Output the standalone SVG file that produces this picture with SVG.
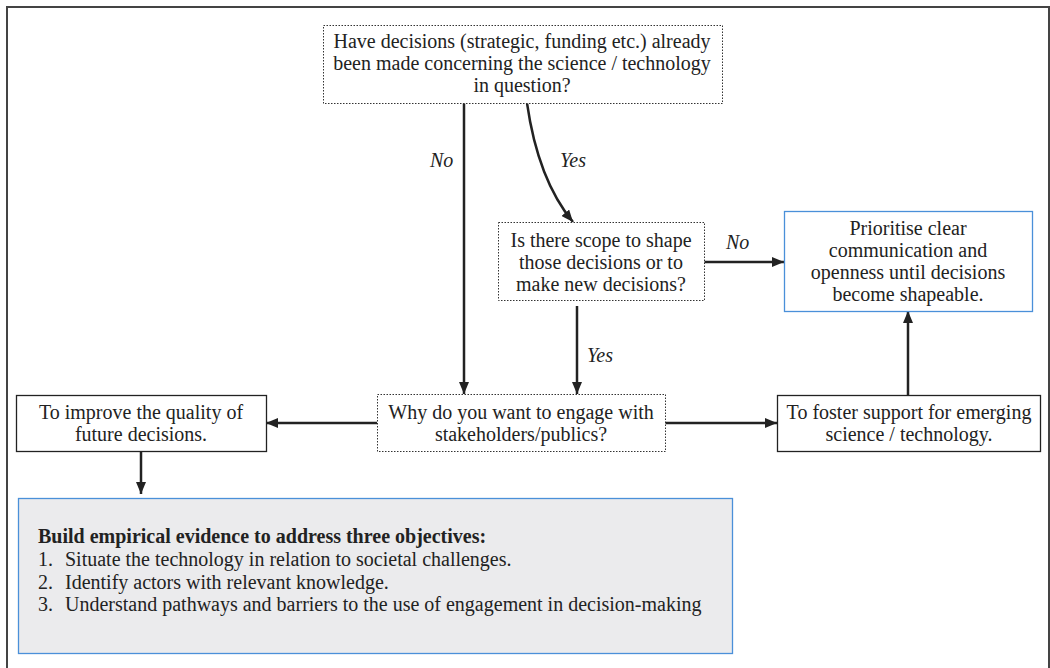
<svg xmlns="http://www.w3.org/2000/svg" width="1050" height="668" viewBox="0 0 1050 668">
<defs>
<marker id="ah" viewBox="0 0 12 10" refX="12" refY="5" markerWidth="12" markerHeight="10" markerUnits="userSpaceOnUse" orient="auto">
<path d="M0,0 L12,5 L0,10 Z" fill="#222"/>
</marker>
<style>
.c{text-anchor:middle}
.i{font-style:italic}
.dot{fill:#fff;stroke:#333;stroke-width:1;stroke-dasharray:1.5 1.5}
.sol{fill:#fff;stroke:#222;stroke-width:1.3}
.blue{fill:#fff;stroke:#4a90d9;stroke-width:1.3}
.grey{fill:#ebebed;stroke:#4a90d9;stroke-width:1.3}
.ln{fill:none;stroke:#222;stroke-width:2.5;marker-end:url(#ah)}
</style>
</defs>
<rect width="1050" height="668" fill="#fff"/>
<path d="M7,668 L7,7 L1049,7 L1049,668" fill="none" stroke="#444" stroke-width="2"/>
<g id="connectors">
<path class="ln" d="M464,103 L464,394"/>
<path class="ln" d="M527,103 Q538,180 573,222"/>
<path class="ln" d="M704,262 L784,262"/>
<path class="ln" d="M577,306 L577,394"/>
<path class="ln" d="M377,423 L266,423"/>
<path class="ln" d="M665,423 L777,423"/>
<path class="ln" d="M908,395 L908,311"/>
<path class="ln" d="M141,452 L141,494"/>
<text class="i" x="430" y="167" font-family="Liberation Serif" font-size="20" fill="#222">No</text>
<text class="i" x="560" y="167" font-family="Liberation Serif" font-size="20" fill="#222">Yes</text>
<text class="i" x="726" y="249" font-family="Liberation Serif" font-size="20" fill="#222">No</text>
<text class="i" x="587" y="362" font-family="Liberation Serif" font-size="20" fill="#222">Yes</text>
</g>
<g id="n1">
<rect class="dot" x="323.5" y="25.5" width="399" height="78"/>
<text class="c" x="522" y="48" font-family="Liberation Serif" font-size="20" fill="#222">Have decisions (strategic, funding etc.) already</text>
<text class="c" x="522" y="70" font-family="Liberation Serif" font-size="20" fill="#222">been made concerning the science / technology</text>
<text class="c" x="522" y="92" font-family="Liberation Serif" font-size="20" fill="#222">in question?</text>
</g>
<g id="n2">
<rect class="dot" x="498.5" y="222.5" width="206" height="78"/>
<text class="c" x="601" y="247" font-family="Liberation Serif" font-size="20" fill="#222">Is there scope to shape</text>
<text class="c" x="601" y="269" font-family="Liberation Serif" font-size="20" fill="#222">those decisions or to</text>
<text class="c" x="601" y="291" font-family="Liberation Serif" font-size="20" fill="#222">make new decisions?</text>
</g>
<g id="n3">
<rect class="blue" x="784.5" y="211.5" width="248" height="100"/>
<text class="c" x="908" y="235" font-family="Liberation Serif" font-size="20" fill="#222">Prioritise clear</text>
<text class="c" x="908" y="257" font-family="Liberation Serif" font-size="20" fill="#222">communication and</text>
<text class="c" x="908" y="279" font-family="Liberation Serif" font-size="20" fill="#222">openness until decisions</text>
<text class="c" x="908" y="301" font-family="Liberation Serif" font-size="20" fill="#222">become shapeable.</text>
</g>
<g id="n4">
<rect class="dot" x="377.5" y="394.5" width="288" height="57"/>
<text class="c" x="521" y="419" font-family="Liberation Serif" font-size="20" fill="#222">Why do you want to engage with</text>
<text class="c" x="521" y="441" font-family="Liberation Serif" font-size="20" fill="#222">stakeholders/publics?</text>
</g>
<g id="n5">
<rect class="sol" x="16.5" y="395.5" width="250" height="56"/>
<text class="c" x="141" y="419" font-family="Liberation Serif" font-size="20" fill="#222">To improve the quality of</text>
<text class="c" x="141" y="441" font-family="Liberation Serif" font-size="20" fill="#222">future decisions.</text>
</g>
<g id="n6">
<rect class="sol" x="777.5" y="395.5" width="263" height="56"/>
<text class="c" x="909" y="419" font-family="Liberation Serif" font-size="20" fill="#222">To foster support for emerging</text>
<text class="c" x="909" y="441" font-family="Liberation Serif" font-size="20" fill="#222">science / technology.</text>
</g>
<g id="n7">
<rect class="grey" x="18.5" y="498.5" width="714" height="155"/>
<text x="38" y="543" font-family="Liberation Serif" font-size="20" font-weight="bold" fill="#222">Build empirical evidence to address three objectives:</text>
<text x="38" y="566" font-family="Liberation Serif" font-size="20" fill="#222">1.</text>
<text x="65" y="566" font-family="Liberation Serif" font-size="20" fill="#222">Situate the technology in relation to societal challenges.</text>
<text x="38" y="588.5" font-family="Liberation Serif" font-size="20" fill="#222">2.</text>
<text x="65" y="588.5" font-family="Liberation Serif" font-size="20" fill="#222">Identify actors with relevant knowledge.</text>
<text x="38" y="611" font-family="Liberation Serif" font-size="20" fill="#222">3.</text>
<text x="65" y="611" font-family="Liberation Serif" font-size="20" fill="#222">Understand pathways and barriers to the use of engagement in decision-making</text>
</g>
</svg>
